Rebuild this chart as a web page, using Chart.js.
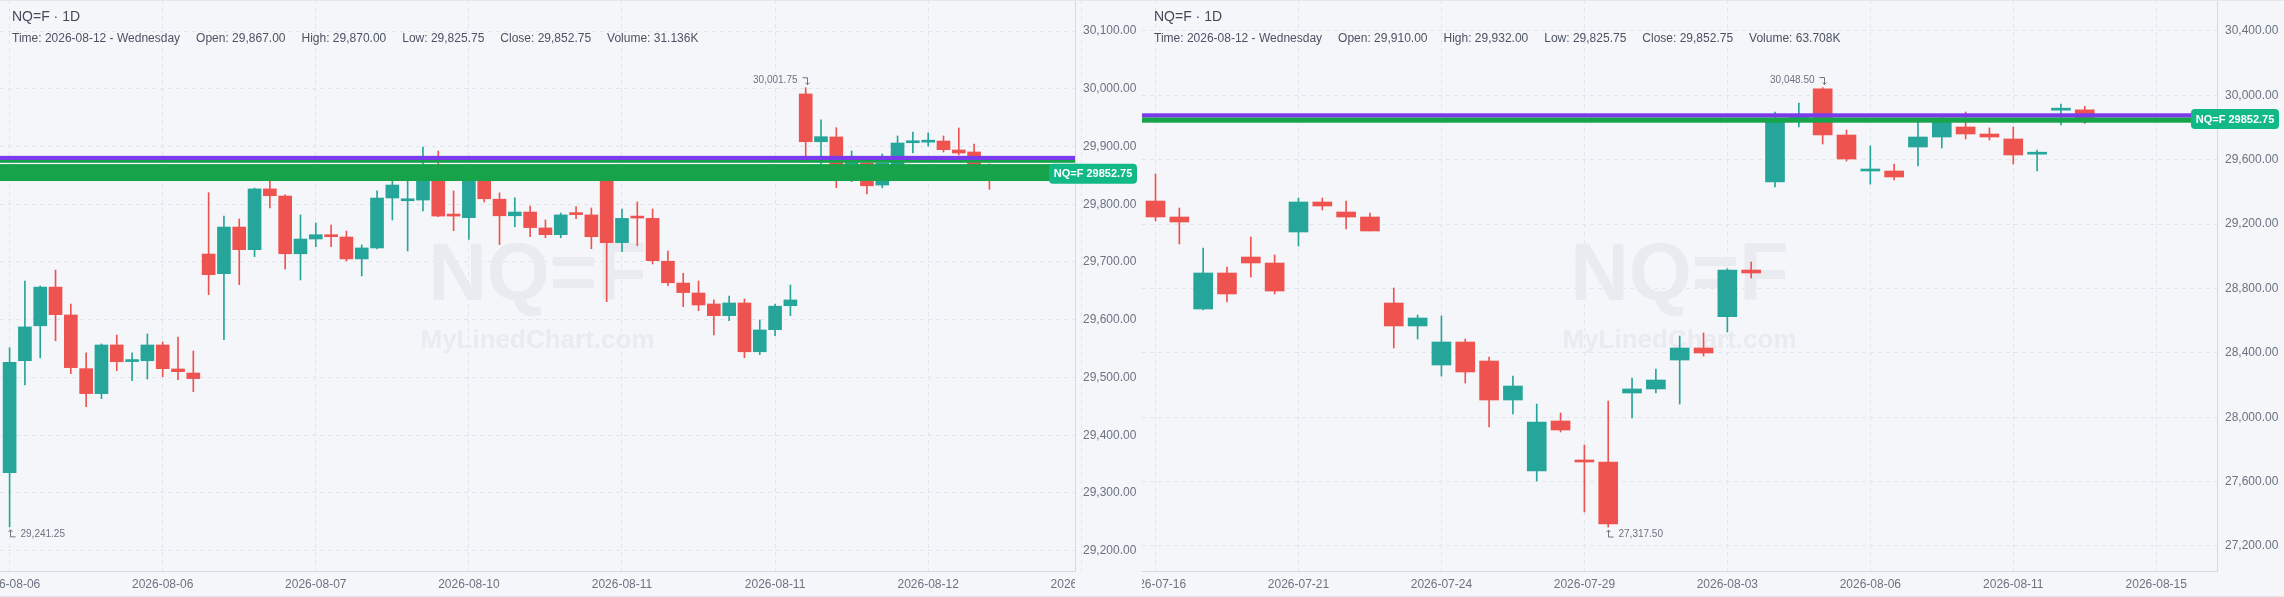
<!DOCTYPE html>
<html>
<head>
<meta charset="utf-8">
<script src="https://cdn.jsdelivr.net/npm/chart.js@4.4.1/dist/chart.umd.min.js"></script>
<style>
  html, body { margin: 0; padding: 0; background: #f5f6fa; }
  body { width: 2284px; height: 597px; overflow: hidden; position: relative;
         font-family: "Liberation Sans", Arial, Helvetica, sans-serif; }
  .panel { position: absolute; top: 0; width: 1142px; height: 597px; }
  .panel canvas { position: absolute; left: 0; top: 0; }
  .title { position: absolute; left: 12px; top: 8px; font-size: 14px; line-height: 16px; color: #434a59; z-index: 2; }
  .info { position: absolute; left: 12px; top: 31px; font-size: 12px; line-height: 14px; color: #4b5261;
          display: flex; gap: 16px; white-space: nowrap; z-index: 2; }
  .edge { position: absolute; left: 0; width: 2284px; height: 1px; background: #e4e7ec; z-index: 3; }
</style>
</head>
<body>
<div class="edge" style="top:0"></div>
<div class="panel" style="left:0">
  <canvas id="leftChart" width="1142" height="597"></canvas>
  <div class="title" id="leftTitle"></div>
  <div class="info" id="leftInfo"></div>
</div>
<div class="panel" style="left:1142px">
  <canvas id="rightChart" width="1142" height="597"></canvas>
  <div class="title" id="rightTitle"></div>
  <div class="info" id="rightInfo"></div>
</div>
<div class="edge" style="top:596px"></div>
<script>
const SYMBOL = "NQ=F";
const LAST_TIME = "2026-08-12 - Wednesday";

// left chart (intraday bars), tick label every 10 bars (last one is cut off by the axis)
const leftTickLabels = ["2026-08-06", "2026-08-06", "2026-08-07", "2026-08-10", "2026-08-11", "2026-08-11", "2026-08-12", "2026-08-12"];
const leftPriceTicks = [29200, 29300, 29400, 29500, 29600, 29700, 29800, 29900, 30000, 30100];
const leftVolume = "31.136K";
const leftOpen = [
  29335, 29529, 29589.5, 29656.5, 29608.25, 29515.25, 29472, 29556.25, 29527.5, 29529,
  29556.25, 29514.75, 29507.75, 29713.75, 29679.75, 29760.5, 29721.25, 29826.5, 29814.25, 29714.25,
  29739.75, 29747.25, 29743.25, 29705.25, 29724.25, 29810.75, 29806, 29807.25, 29848, 29781,
  29776.75, 29845, 29808.75, 29780, 29786.5, 29759, 29747.25, 29782.5, 29781.5, 29848,
  29733.5, 29777.5, 29775.5, 29701.25, 29663.5, 29646.25, 29627.25, 29607, 29629, 29544.5,
  29582.75, 29624.25, 29991, 29908.25, 29916.5, 29869, 29871, 29833.25, 29868, 29906.5,
  29907.5, 29909.5, 29894, 29890.5, 29867
];
const leftHigh = [
  29551.5, 29667, 29658.5, 29686, 29627.25, 29542.5, 29558, 29573.5, 29542.5, 29575.25,
  29561.5, 29570, 29545.75, 29820, 29779.5, 29774.5, 29828, 29840, 29816.5, 29781.5,
  29767.5, 29764, 29753.5, 29729.5, 29823, 29842, 29845, 29899, 29892.25, 29823,
  29850, 29852, 29819.75, 29811.25, 29797, 29772.75, 29784.75, 29795.75, 29793.5, 29852,
  29791.75, 29804, 29791.75, 29719, 29680.5, 29667, 29634.25, 29641, 29636, 29599.5,
  29627.25, 29660, 30001.75, 29946, 29932.5, 29892.25, 29875, 29887, 29918.25, 29925,
  29923.5, 29918.25, 29932, 29904.25, 29870
];
const leftLow = [
  29241.25, 29487, 29534, 29563.5, 29506.5, 29449.5, 29463.25, 29511.75, 29494.5, 29497.25,
  29501.25, 29496, 29475.5, 29643.25, 29565.5, 29660.75, 29709.25, 29793.5, 29687.75, 29668.75,
  29726.5, 29726.5, 29701.75, 29675.75, 29722.5, 29772.75, 29719, 29788.25, 29778.5, 29754.25,
  29739, 29804, 29730, 29761, 29743.75, 29742, 29742, 29775, 29723, 29631.25,
  29717.75, 29728.25, 29696.5, 29659, 29622.5, 29615.5, 29573.5, 29598.25, 29534.25, 29539.5,
  29572.5, 29607, 29872, 29860, 29828.5, 29839, 29817.75, 29828.5, 29862, 29888.75,
  29900.75, 29890.5, 29885.25, 29862, 29825.75
];
const leftClose = [
  29526, 29587.5, 29656.5, 29608.75, 29517, 29472, 29556.25, 29527.25, 29528.75, 29556.25,
  29515.25, 29510, 29498, 29678, 29760.5, 29721.25, 29826.5, 29814.75, 29714.25, 29739.75,
  29747.25, 29743.75, 29705.25, 29724.25, 29810.75, 29833.25, 29807.5, 29850, 29779.5, 29779.5,
  29845, 29809.5, 29780, 29786.5, 29759.5, 29747.25, 29781.5, 29782, 29743.75, 29733.5,
  29775.5, 29776, 29702.25, 29664, 29647, 29625.5, 29607, 29629, 29544.5, 29582.25,
  29623.5, 29634.25, 29908.25, 29917, 29862.75, 29871.5, 29832, 29871, 29906, 29908,
  29908.5, 29894.5, 29888.75, 29867, 29852.75
];

// right chart (daily bars), tick label every 6 bars
const rightTickLabels = ["2026-07-16", "2026-07-21", "2026-07-24", "2026-07-29", "2026-08-03", "2026-08-06", "2026-08-11", "2026-08-15"];
const rightPriceTicks = [27200, 27600, 28000, 28400, 28800, 29200, 29600, 30000, 30400];
const rightVolume = "63.708K";
const rightOpen = [
  29343.5, 29244.25, 28672.5, 28896.25, 28995.5, 28958.25, 29151, 29337.5, 29275.25, 29244.25,
  28709.75, 28567, 28324.5, 28467.5, 28349.25, 28107, 27665.75, 27976.5, 27734.25, 27721.75,
  28150.5, 28175.5, 28355.5, 28430.25, 28624.5, 28914.75, 29461.75, 29838, 30040, 29753.75,
  29530, 29530, 29679, 29741.25, 29803.5, 29760, 29729, 29634.5, 29908, 29910
];
const rightHigh = [
  29511.5, 29300, 29051.5, 28933.5, 29120, 29008, 29362.25, 29362.25, 29343.5, 29269,
  28803, 28635.25, 28629, 28486, 28374.25, 28256, 28082, 28026.25, 27827.5, 28100.75,
  28243.75, 28299.75, 28504.75, 28523.5, 28923, 28964.5, 29896.5, 29952.5, 30048.5, 29784.75,
  29685.5, 29573.5, 29834.5, 29868, 29896.5, 29797.25, 29803.5, 29660.5, 29946.25, 29932
];
const rightLow = [
  29219.25, 29076.5, 28666.25, 28716, 28871.25, 28765.75, 29064, 29287.75, 29169.5, 29157.25,
  28430.25, 28486, 28256, 28212.5, 27939.25, 28020, 27603.75, 27908.25, 27411, 27317.5,
  27995, 28150.5, 28082, 28380.5, 28529.5, 28865, 29430.5, 29803.5, 29697.75, 29592,
  29449.25, 29474, 29561, 29673, 29729, 29722.75, 29573.5, 29530, 29816, 29825.75
];
const rightClose = [
  29244.25, 29213, 28896.25, 28765.75, 28958.25, 28784.25, 29337.5, 29312.5, 29244.25, 29157.25,
  28567, 28616.5, 28467.5, 28281, 28107, 28194, 27970.25, 27920.5, 27721.75, 27336.5,
  28175.5, 28231.25, 28430.25, 28399, 28914.75, 28896.25, 29835, 29870, 29753.75, 29604.5,
  29532, 29492.75, 29741.25, 29835, 29760, 29741.25, 29629.5, 29636.5, 29910, 29852.75
];

const UP = "#26a69a";
const DOWN = "#ef5350";
const TEXT = "#6b7280";
const FONT = '"Liberation Sans", Arial, Helvetica, sans-serif';

function fmt(v) {
  return v.toLocaleString("en-US", { minimumFractionDigits: 2, maximumFractionDigits: 2 });
}

function fillInfo(prefix, open, high, low, close, volume) {
  const n = close.length - 1;
  document.getElementById(prefix + "Title").textContent = SYMBOL + " \u00b7 1D";
  const parts = [
    "Time: " + LAST_TIME,
    "Open: " + fmt(open[n]),
    "High: " + fmt(high[n]),
    "Low: " + fmt(low[n]),
    "Close: " + fmt(close[n]),
    "Volume: " + volume
  ];
  const box = document.getElementById(prefix + "Info");
  parts.forEach(function (p) {
    const s = document.createElement("span");
    s.textContent = p;
    box.appendChild(s);
  });
}

function candleChart(canvasId, d) {
  const idx = d.open.map(function (_, i) { return i; });
  const colors = idx.map(function (i) { return d.close[i] >= d.open[i] ? UP : DOWN; });
  const last = d.close[d.close.length - 1];

  const marks = {
    id: "marks",
    beforeDraw(chart) {
      // date labels stop at the price axis, like the original
      const ctx = chart.ctx, a = chart.chartArea;
      ctx.save();
      ctx.beginPath();
      ctx.rect(0, 0, chart.width, chart.height);
      ctx.rect(a.right, a.bottom + 1, chart.width - a.right, chart.height - a.bottom);
      ctx.clip("evenodd");
    },
    afterDraw(chart) {
      chart.ctx.restore();
    },
    beforeDatasetsDraw(chart) {
      const ctx = chart.ctx, a = chart.chartArea;
      const cx = (a.left + a.right) / 2, cy = (a.top + a.bottom) / 2;
      ctx.save();
      ctx.fillStyle = "#e9ebf1";
      ctx.textAlign = "center";
      ctx.textBaseline = "alphabetic";
      ctx.font = "bold 81px " + FONT;
      ctx.fillText(SYMBOL, cx, cy + 14);
      ctx.font = "bold 26px " + FONT;
      ctx.fillText("MyLinedChart.com", cx, cy + 62);
      ctx.restore();
    },
    afterDatasetsDraw(chart) {
      const ctx = chart.ctx, a = chart.chartArea;
      const x = chart.scales.x, y = chart.scales.y;
      ctx.save();
      // green zone with a thin gap, purple line on top
      const gTop = y.getPixelForValue(d.zone[1]);
      const gBot = y.getPixelForValue(d.zone[0]);
      ctx.fillStyle = "#16a34a";
      if (d.gap != null) {
        const g = y.getPixelForValue(d.gap);
        ctx.fillRect(a.left, gTop, a.right - a.left, g - 0.65 - gTop);
        ctx.fillRect(a.left, g + 0.65, a.right - a.left, gBot - g - 0.65);
      } else {
        ctx.fillRect(a.left, gTop, a.right - a.left, gBot - gTop);
      }
      const pTop = y.getPixelForValue(d.purple[1]);
      const pBot = y.getPixelForValue(d.purple[0]);
      ctx.fillStyle = "#7c3aed";
      ctx.fillRect(a.left, pTop, a.right - a.left, pBot - pTop);

      // highest high / lowest low notes
      ctx.strokeStyle = TEXT;
      ctx.fillStyle = TEXT;
      ctx.lineWidth = 1;
      ctx.font = "10px " + FONT;
      ctx.textBaseline = "middle";
      let hi = 0, lo = 0;
      d.high.forEach(function (v, i) { if (v > d.high[hi]) hi = i; });
      d.low.forEach(function (v, i) { if (v < d.low[lo]) lo = i; });
      let px = Math.round(x.getPixelForValue(hi)) + 0.5;
      let py = y.getPixelForValue(d.high[hi]);
      ctx.textAlign = "right";
      ctx.fillText(fmt(d.high[hi]), px - 9, py - 7);
      ctx.beginPath();
      ctx.moveTo(px - 4, py - 10); ctx.lineTo(px + 1, py - 10); ctx.lineTo(px + 1, py - 3);
      ctx.moveTo(px - 1, py - 5); ctx.lineTo(px + 1, py - 3); ctx.lineTo(px + 3, py - 5);
      ctx.stroke();
      px = Math.round(x.getPixelForValue(lo)) + 0.5;
      py = y.getPixelForValue(d.low[lo]);
      ctx.textAlign = "left";
      ctx.fillText(fmt(d.low[lo]), px + 10, py + 7);
      ctx.beginPath();
      ctx.moveTo(px, py + 3); ctx.lineTo(px, py + 10); ctx.lineTo(px + 5, py + 10);
      ctx.moveTo(px - 2, py + 5); ctx.lineTo(px, py + 3); ctx.lineTo(px + 2, py + 5);
      ctx.stroke();

      // last price tag on the axis
      const ty = y.getPixelForValue(last);
      const bx = a.right - 26, bw = 88, bh = 20;
      ctx.fillStyle = "#12b886";
      ctx.beginPath();
      ctx.roundRect(bx, ty - bh / 2, bw, bh, 4);
      ctx.fill();
      ctx.fillStyle = "#ffffff";
      ctx.font = "bold 11px " + FONT;
      ctx.textAlign = "center";
      ctx.fillText(SYMBOL + " " + last.toFixed(2), bx + bw / 2, ty + 0.5);
      ctx.restore();
    }
  };

  return new Chart(document.getElementById(canvasId), {
    type: "bar",
    data: {
      datasets: [
        {
          label: "body",
          order: 1,
          data: idx.map(function (i) { return { x: i, y: [d.open[i], d.close[i]] }; }),
          backgroundColor: colors,
          barThickness: d.bodyWidth,
          minBarLength: 2,
          grouped: false
        },
        {
          label: "wick",
          order: 2,
          data: idx.map(function (i) { return { x: i, y: [d.low[i], d.high[i]] }; }),
          backgroundColor: colors,
          barThickness: 1,
          grouped: false
        }
      ]
    },
    options: {
      responsive: false,
      animation: false,
      events: [],
      layout: { padding: 0 },
      plugins: { legend: { display: false }, tooltip: { enabled: false } },
      scales: {
        x: {
          type: "linear",
          offset: false,
          min: d.xRange[0],
          max: d.xRange[1],
          grid: { offset: false, color: "#e2e5eb", drawTicks: false },
          border: { color: "#d5d9e0", dash: [4, 4] },
          ticks: {
            autoSkip: false,
            maxRotation: 0,
            padding: 6,
            color: TEXT,
            font: { size: 12, family: FONT },
            callback: function (v) { return d.tickLabels[Math.round(v / d.tickStep)] || ""; }
          },
          afterBuildTicks: function (s) {
            s.ticks = d.tickLabels.map(function (_, k) { return { value: k * d.tickStep }; });
          },
          afterFit: function (s) { s.height = 26; s.paddingLeft = 0; s.paddingRight = 0; }
        },
        y: {
          position: "right",
          min: d.yRange[0],
          max: d.yRange[1],
          beginAtZero: false,
          grid: { color: "#e2e5eb", drawTicks: false },
          border: { color: "#d5d9e0", dash: [4, 4] },
          ticks: {
            padding: 8,
            color: TEXT,
            font: { size: 12, family: FONT },
            callback: function (v) { return fmt(v); }
          },
          afterBuildTicks: function (s) {
            s.ticks = d.priceTicks.map(function (v) { return { value: v }; });
          },
          afterFit: function (s) { s.width = 67; s.paddingTop = 0; s.paddingBottom = 0; }
        }
      }
    },
    plugins: [marks]
  });
}

fillInfo("left", leftOpen, leftHigh, leftLow, leftClose, leftVolume);
fillInfo("right", rightOpen, rightHigh, rightLow, rightClose, rightVolume);

candleChart("leftChart", {
  open: leftOpen, high: leftHigh, low: leftLow, close: leftClose,
  tickLabels: leftTickLabels, tickStep: 10, priceTicks: leftPriceTicks,
  xRange: [-0.627, 69.59], yRange: [29164.8, 30153.7],
  bodyWidth: 13,
  zone: [29840.2, 29876.6], gap: 29870.6, purple: [29876.6, 29883.8]
});

candleChart("rightChart", {
  open: rightOpen, high: rightHigh, low: rightLow, close: rightClose,
  tickLabels: rightTickLabels, tickStep: 6, priceTicks: rightPriceTicks,
  xRange: [-0.567, 44.55], yRange: [27044.4, 30592.6],
  bodyWidth: 19,
  zone: [29830.1, 29863.7], gap: null, purple: [29863.7, 29888.6]
});
</script>
</body>
</html>
